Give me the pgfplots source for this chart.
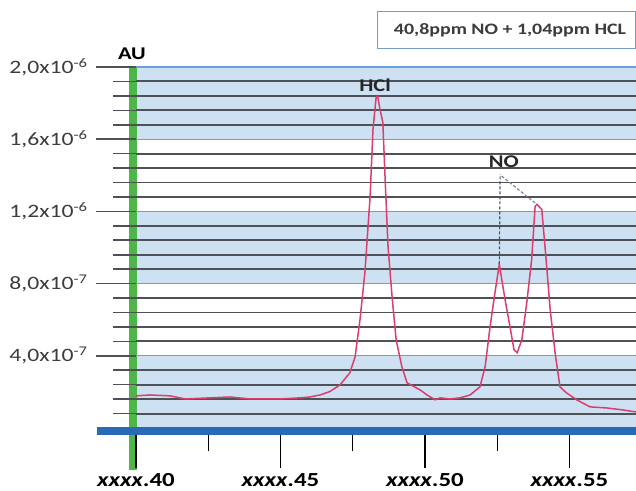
\documentclass[border=0pt]{standalone}
\usepackage{fontspec}
\setmainfont{Carlito}[FakeStretch=1.25]
\usepackage{pgfplots}
\pgfplotsset{compat=1.18}
\usetikzlibrary{calc}

\definecolor{bandblue}{RGB}{206,225,243}
\definecolor{gridgray}{RGB}{78,82,88}
\definecolor{gridblue}{RGB}{110,158,216}
\definecolor{axgreen}{RGB}{78,182,72}
\definecolor{barblue}{RGB}{40,106,182}
\definecolor{curvered}{RGB}{218,62,108}
\definecolor{dashcol}{RGB}{72,84,108}
\definecolor{labelgray}{RGB}{60,60,60}
\definecolor{boxline}{RGB}{120,156,200}

\begin{document}
\begin{tikzpicture}
\begin{axis}[
  name=ax, set layers,
  scale only axis, width=500bp, height=361bp,
  xmin=0.40, xmax=0.573, ymin=0, ymax=20,
  axis lines*=left, axis line style={draw=none},
  clip=false,
  xtick={0.40,0.45,0.50,0.55},
  minor xtick={0.425,0.475,0.525},
  xticklabels={\textit{xxxx}.40,\textit{xxxx}.45,\textit{xxxx}.50,\textit{xxxx}.55},
  ytick={4,8,12,16,20},
  minor ytick={0.8,1.6,2.4,3.2,4.8,5.6,6.4,7.2,8.8,9.6,10.4,11.2,12.8,13.6,14.4,15.2,16.8,17.6,18.4,19.2},
  yticklabels={{4,0x10\textsuperscript{-7}},{8,0x10\textsuperscript{-7}},{1,2x10\textsuperscript{-6}},{1,6x10\textsuperscript{-6}},{2,0x10\textsuperscript{-6}}},
  tick align=outside,
  major tick length=40bp, minor tick length=23bp,
  xtick style={black, line width=1.2bp},
  ytick style={color=gridgray, line width=1.6bp},
  ymajorgrids, yminorgrids,
  major grid style={gridblue, line width=1.2bp},
  minor grid style={gridgray, line width=1.9bp},
  xticklabel style={font=\fontsize{20}{22}\selectfont\bfseries, black, yshift=-2bp},
  yticklabel style={font=\fontsize{19}{22}\selectfont, color=labelgray, xshift=-5bp},
]
\begin{pgfonlayer}{axis background}
  \fill[bandblue] (axis cs:0.40,0) rectangle (axis cs:0.573,4);
  \fill[bandblue] (axis cs:0.40,8) rectangle (axis cs:0.573,12);
  \fill[bandblue] (axis cs:0.40,16) rectangle (axis cs:0.573,20);
  \draw[axgreen, line width=7bp] ([xshift=-3bp]axis cs:0.40,20) -- ([xshift=-3bp,yshift=-42bp]axis cs:0.40,0);
\end{pgfonlayer}
\begin{pgfonlayer}{axis lines}
  \draw[barblue, line width=8bp] ([xshift=-39bp,yshift=-3bp]axis cs:0.40,0) -- ([yshift=-3bp]axis cs:0.573,0);
\end{pgfonlayer}

% spectrum
\addplot[curvered, line width=1.5bp] coordinates {
 (0.4000,1.78) (0.4048,1.83) (0.4118,1.78) (0.4170,1.61) (0.4256,1.67)
 (0.4325,1.72) (0.4394,1.61) (0.4498,1.61) (0.4567,1.67) (0.4602,1.72)
 (0.4637,1.83) (0.4671,2.02) (0.4706,2.39) (0.4740,3.06) (0.4758,3.94)
 (0.4775,6.00) (0.4792,8.61) (0.4810,12.83) (0.4820,16.56) (0.4831,18.33)
 (0.4836,18.39) (0.4844,17.67) (0.4854,16.94) (0.4862,13.78) (0.4872,10.06)
 (0.4886,7.28) (0.4900,4.89) (0.4920,3.39) (0.4938,2.50) (0.4983,2.11)
 (0.5007,1.83) (0.5035,1.56) (0.5052,1.67) (0.5087,1.61) (0.5121,1.67)
 (0.5156,1.83) (0.5190,2.28) (0.5208,3.39) (0.5225,5.61) (0.5242,7.50)
 (0.5257,9.06) (0.5277,7.11) (0.5294,5.61) (0.5308,4.33) (0.5319,4.17)
 (0.5335,4.89) (0.5352,6.94) (0.5369,9.33) (0.5381,12.28) (0.5387,12.39)
 (0.5404,12.11) (0.5419,9.33) (0.5433,6.56) (0.5450,4.17) (0.5467,2.28)
 (0.5490,1.94) (0.5525,1.56) (0.5571,1.17) (0.5629,1.11) (0.5685,1.00)
 (0.5730,0.89)
};
% NO peak markers
\addplot[dashcol, line width=1.2bp, dash pattern=on 3bp off 2bp] coordinates {(0.5257,9.06) (0.5260,14.06)};
\addplot[dashcol!70, line width=1.2bp, dash pattern=on 3bp off 2bp] coordinates {(0.5265,13.96) (0.5387,12.39)};

\node[font=\fontsize{18}{20}\selectfont\bfseries] at (axis cs:0.3986,20.72) {AU};
\node[font=\fontsize{18}{20}\selectfont\bfseries, text=black!85] at (axis cs:0.4827,19.0) {HCl};
\node[font=\fontsize{18}{20}\selectfont\bfseries, text=black!85] at (axis cs:0.5273,14.74) {NO};
\draw[boxline, line width=1bp, fill=white] (axis cs:0.4837,21.05) rectangle (axis cs:0.5727,23.05);
\node[font=\fontsize{16}{18}\selectfont\bfseries, text=labelgray] at (axis cs:0.5294,22.05) {40,8ppm NO + 1,04ppm HCL};
\end{axis}
\pgfresetboundingbox
\path[use as bounding box] ($(ax.south west)+(-136bp,-63bp)$) rectangle ($(ax.north east)+(0bp,67bp)$);
\end{tikzpicture}
\end{document}
